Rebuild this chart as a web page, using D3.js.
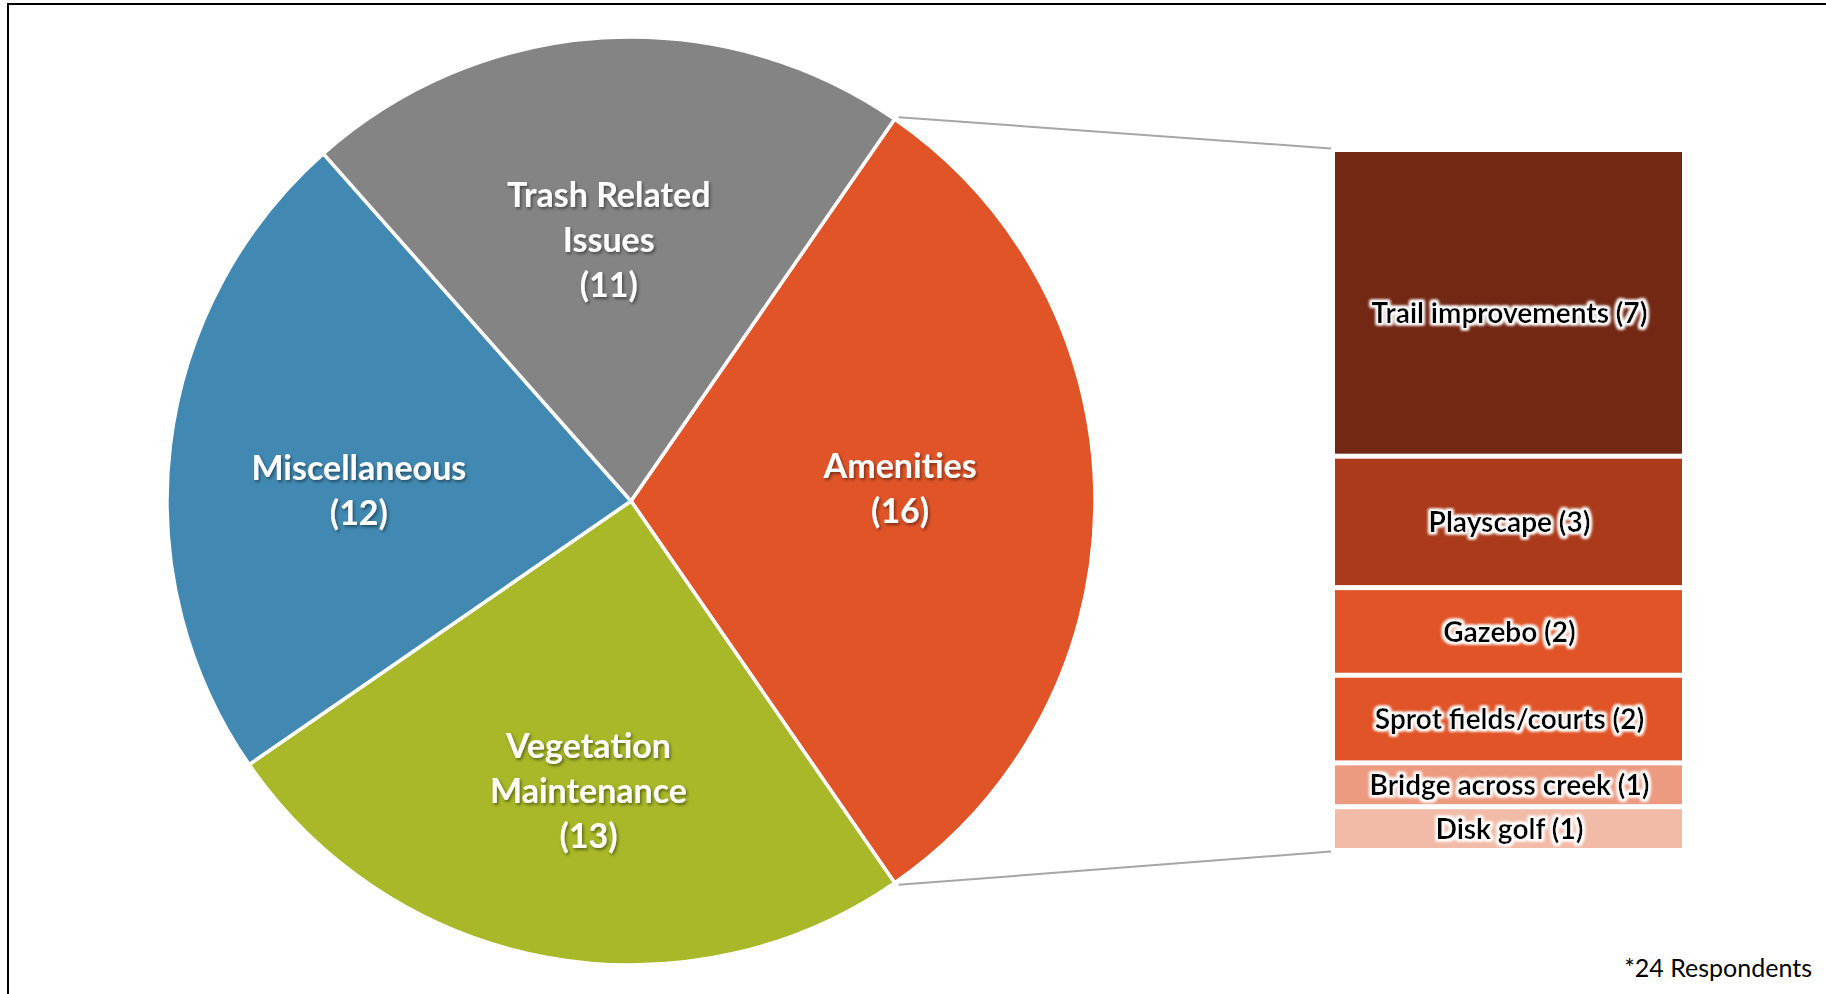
<!DOCTYPE html>
<html>
<head>
<meta charset="utf-8">
<script src="https://cdn.jsdelivr.net/npm/d3@7"></script>
<style>
  body { margin: 0; background: #fff; }
  svg { display: block; }
</style>
</head>
<body>
<div class="chart"></div>
<script>
// pie categories, clockwise starting with the exploded one
const categories = ['Amenities', 'Vegetation Maintenance', 'Miscellaneous', 'Trash Related Issues'];
const counts = [16, 13, 12, 11];
const labelLines = [['Amenities'], ['Vegetation', 'Maintenance'], ['Miscellaneous'], ['Trash Related', 'Issues']];
const pieColors = ['#e05428', '#a8b828', '#4189b3', '#848484'];

// breakdown of Amenities, top to bottom
const amenities = ['Trail improvements', 'Playscape', 'Gazebo', 'Sprot fields/courts', 'Bridge across creek', 'Disk golf'];
const amenityCounts = [7, 3, 2, 2, 1, 1];
const barColors = ['#732814', '#aa3a1a', '#e05428', '#e05428', '#ec9a80', '#f2bba8'];

const note = '*24 Respondents';

const w = 1826;
const h = 994;
const cx = 631, cy = 501, r = 464;

// hand placed label offsets (px) from the slice centroid, like the original
const labelNudge = [[0, -12], [6, 26], [-5, 23], [-6, 9]];

const svg = d3.select('.chart').append('svg').attr('width', w).attr('height', h);

const defs = svg.append('defs');
const shadow = defs.append('filter').attr('id', 'shadow').attr('x', '-20%').attr('y', '-20%').attr('width', '140%').attr('height', '140%');
shadow.append('feDropShadow').attr('dx', 1.5).attr('dy', 2).attr('stdDeviation', 1.5).attr('flood-color', '#000').attr('flood-opacity', 0.45);

const glow = defs.append('filter').attr('id', 'glow').attr('x', '-20%').attr('y', '-40%').attr('width', '140%').attr('height', '180%');
glow.append('feMorphology').attr('in', 'SourceAlpha').attr('operator', 'dilate').attr('radius', 2).attr('result', 'fat');
glow.append('feGaussianBlur').attr('in', 'fat').attr('stdDeviation', 1.6).attr('result', 'soft');
glow.append('feFlood').attr('flood-color', '#fff');
glow.append('feComposite').attr('in2', 'soft').attr('operator', 'in').attr('result', 'halo');
const merge = glow.append('feMerge');
merge.append('feMergeNode').attr('in', 'halo');
merge.append('feMergeNode').attr('in', 'halo');
merge.append('feMergeNode').attr('in', 'SourceGraphic');

// frame
svg.append('rect').attr('x', 8).attr('y', 4).attr('width', w).attr('height', h)
  .attr('fill', 'none').attr('stroke', '#000').attr('stroke-width', 2);

const amenShare = counts[0] / d3.sum(counts) * 2 * Math.PI;
const pie = d3.pie().sort(null).startAngle(Math.PI / 2 - amenShare / 2).endAngle(Math.PI / 2 - amenShare / 2 + 2 * Math.PI);
const arcs = pie(counts);
const arc = d3.arc().innerRadius(0).outerRadius(r);
const labelArc = d3.arc().innerRadius(r * 0.58).outerRadius(r * 0.58);

const g = svg.append('g').attr('transform', `translate(${cx},${cy})`);

g.selectAll('path').data(arcs).enter().append('path')
  .attr('d', arc)
  .attr('fill', (d, i) => pieColors[i])
  .attr('stroke', '#fff').attr('stroke-width', 3.5).attr('stroke-linejoin', 'round');

const lineH = 45;
g.selectAll('text.pie-label').data(arcs).enter().append('text')
  .attr('class', 'pie-label')
  .attr('text-anchor', 'middle')
  .attr('font-family', 'Lato, sans-serif').attr('font-weight', 'bold').attr('font-size', 34)
  .attr('fill', '#fff').attr('filter', 'url(#shadow)')
  .each(function (d, i) {
    const [x, y] = labelArc.centroid(d);
    const lines = labelLines[i].concat(`(${counts[i]})`);
    const top = y + labelNudge[i][1] - (lines.length - 1) * lineH / 2 + 11;
    lines.forEach((t, k) => {
      d3.select(this).append('tspan').attr('x', x + labelNudge[i][0]).attr('y', top + k * lineH).text(t);
    });
  });

// stacked bar of the Amenities breakdown
const barX = 1335, barW = 347;
const yScale = d3.scaleLinear().domain([0, d3.sum(amenityCounts)]).range([149.5, 850.5]);
const cum = d3.cumsum(amenityCounts);
const bars = amenities.map((name, i) => ({ name, v: amenityCounts[i], y0: i ? cum[i - 1] : 0, y1: cum[i] }));
const gap = 5;

svg.selectAll('rect.bar').data(bars).enter().append('rect')
  .attr('class', 'bar')
  .attr('x', barX).attr('width', barW)
  .attr('y', d => yScale(d.y0) + gap / 2)
  .attr('height', d => yScale(d.y1) - yScale(d.y0) - gap)
  .attr('fill', (d, i) => barColors[i]);

svg.selectAll('text.bar-label').data(bars).enter().append('text')
  .attr('class', 'bar-label')
  .attr('x', barX + barW / 2 + 1)
  .attr('y', (d, i) => (yScale(d.y0) + yScale(d.y1)) / 2 + (i === 0 ? 10 : 0))
  .attr('dy', '0.36em')
  .attr('text-anchor', 'middle')
  .attr('font-family', 'Lato, sans-serif').attr('font-weight', 'bold').attr('font-size', 28)
  .attr('fill', '#000').attr('filter', 'url(#glow)')
  .text(d => `${d.name} (${d.v})`);

// connector lines from the pie slice to the bar
const a0 = arcs[0].startAngle, a1 = arcs[0].endAngle;
const conn = [
  [[cx + r * Math.sin(a0) + 4, cy - r * Math.cos(a0) - 2], [barX - 4, yScale(0) - 1]],
  [[cx + r * Math.sin(a1) + 4, cy - r * Math.cos(a1) + 2], [barX - 4, yScale(d3.sum(amenityCounts)) + 1]]
];
svg.selectAll('line.conn').data(conn).enter().append('line')
  .attr('class', 'conn')
  .attr('x1', d => d[0][0]).attr('y1', d => d[0][1])
  .attr('x2', d => d[1][0]).attr('y2', d => d[1][1])
  .attr('stroke', '#a6a6a6').attr('stroke-width', 2);

svg.append('text').attr('x', 1812).attr('y', 977).attr('text-anchor', 'end')
  .attr('font-family', 'Lato, sans-serif').attr('font-size', 25).attr('fill', '#000')
  .text(note);
</script>
</body>
</html>
